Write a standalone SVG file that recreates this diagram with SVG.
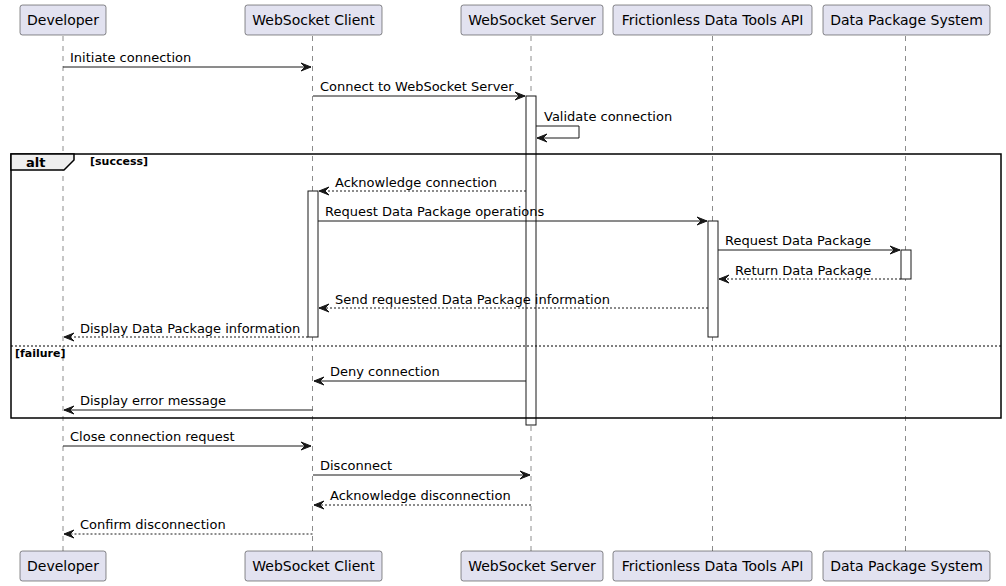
<svg xmlns="http://www.w3.org/2000/svg" width="1006" height="586" viewBox="0 0 1006 586">
<style>
.part rect{fill:#E2E2F0;stroke:#181818;stroke-width:0.5}
.part text{font-family:"DejaVu Sans",sans-serif;font-size:14px;fill:#000;text-anchor:middle}
.life{stroke:#181818;stroke-width:0.5;stroke-dasharray:5,5}
.act{fill:#FFFFFF;stroke:#181818;stroke-width:1}
.msg{stroke:#181818;stroke-width:1;fill:none}
.dash{stroke-dasharray:2,2}
.lbl{font-family:"DejaVu Sans",sans-serif;font-size:13px;fill:#000}
.grp{font-family:"DejaVu Sans",sans-serif;font-size:11px;font-weight:bold;fill:#000}
.head{fill:#181818;stroke:#181818;stroke-width:1}
</style>
<rect width="1006" height="586" fill="#FFFFFF"/>
<g id="lifelines">
<line class="life" x1="63" y1="36" x2="63" y2="551"/>
<line class="life" x1="312.5" y1="36" x2="312.5" y2="551"/>
<line class="life" x1="531" y1="36" x2="531" y2="551"/>
<line class="life" x1="712.5" y1="36" x2="712.5" y2="551"/>
<line class="life" x1="905.5" y1="36" x2="905.5" y2="551"/>
</g>
<g id="Developer" class="part">
<rect x="20" y="5" width="86" height="30" rx="2.5"/><text x="63" y="25">Developer</text>
<rect x="20" y="551" width="86" height="30" rx="2.5"/><text x="63" y="571">Developer</text>
</g>
<g id="WebSocketClient" class="part">
<rect x="245" y="5" width="137" height="30" rx="2.5"/><text x="313.5" y="25">WebSocket Client</text>
<rect x="245" y="551" width="137" height="30" rx="2.5"/><text x="313.5" y="571">WebSocket Client</text>
</g>
<g id="WebSocketServer" class="part">
<rect x="461" y="5" width="142" height="30" rx="2.5"/><text x="532" y="25">WebSocket Server</text>
<rect x="461" y="551" width="142" height="30" rx="2.5"/><text x="532" y="571">WebSocket Server</text>
</g>
<g id="FrictionlessAPI" class="part">
<rect x="613" y="5" width="199" height="30" rx="2.5"/><text x="712.5" y="25">Frictionless Data Tools API</text>
<rect x="613" y="551" width="199" height="30" rx="2.5"/><text x="712.5" y="571">Frictionless Data Tools API</text>
</g>
<g id="DataPackageSystem" class="part">
<rect x="823" y="5" width="167" height="30" rx="2.5"/><text x="906.5" y="25">Data Package System</text>
<rect x="823" y="551" width="167" height="30" rx="2.5"/><text x="906.5" y="571">Data Package System</text>
</g>
<g id="activations">
<rect class="act" x="526" y="96" width="10" height="329"/>
<rect class="act" x="308" y="191" width="10" height="146"/>
<rect class="act" x="708" y="221" width="10" height="116"/>
<rect class="act" x="901" y="250" width="10" height="29"/>
</g>
<g id="altframe">
<rect x="11" y="154" width="990" height="264" fill="none" stroke="#000" stroke-width="1.5"/>
<polygon points="11,154 74,154 74,160 64,170 11,170" fill="#EEEEEE" stroke="#000" stroke-width="1.5"/>
<text x="26" y="167" font-family="DejaVu Sans, sans-serif" font-size="13" font-weight="bold">alt</text>
<text class="grp" x="90" y="165">[success]</text>
<line x1="11" y1="346" x2="1001" y2="346" stroke="#000" stroke-width="1" stroke-dasharray="2,2"/>
<text class="grp" x="15" y="357">[failure]</text>
</g>
<g id="connectors">
<line class="msg" x1="63" y1="67" x2="311" y2="67"/>
<polygon class="head" points="301,63 311,67 301,71 305,67"/>
<text class="lbl" x="70" y="62">Initiate connection</text>

<line class="msg" x1="313" y1="96" x2="525" y2="96"/>
<polygon class="head" points="515,92 525,96 515,100 519,96"/>
<text class="lbl" x="320" y="91">Connect to WebSocket Server</text>

<polyline class="msg" points="536,126 579,126 579,138 537,138"/>
<polygon class="head" points="547,134 537,138 547,142 543,138"/>
<text class="lbl" x="544" y="121">Validate connection</text>

<line class="msg dash" x1="526" y1="191" x2="319" y2="191"/>
<polygon class="head" points="329,187 319,191 329,195 325,191"/>
<text class="lbl" x="335" y="187">Acknowledge connection</text>

<line class="msg" x1="318" y1="221" x2="707" y2="221"/>
<polygon class="head" points="697,217 707,221 697,225 701,221"/>
<text class="lbl" x="325" y="216">Request Data Package operations</text>

<line class="msg" x1="718" y1="250" x2="900" y2="250"/>
<polygon class="head" points="890,246 900,250 890,254 894,250"/>
<text class="lbl" x="725" y="245">Request Data Package</text>

<line class="msg dash" x1="901" y1="279" x2="719" y2="279"/>
<polygon class="head" points="729,275 719,279 729,283 725,279"/>
<text class="lbl" x="735" y="275">Return Data Package</text>

<line class="msg dash" x1="708" y1="308" x2="319" y2="308"/>
<polygon class="head" points="329,304 319,308 329,312 325,308"/>
<text class="lbl" x="335" y="304">Send requested Data Package information</text>

<line class="msg dash" x1="308" y1="337" x2="64" y2="337"/>
<polygon class="head" points="74,333 64,337 74,341 70,337"/>
<text class="lbl" x="80" y="333">Display Data Package information</text>

<line class="msg" x1="526" y1="381" x2="314" y2="381"/>
<polygon class="head" points="324,377 314,381 324,385 320,381"/>
<text class="lbl" x="330" y="376">Deny connection</text>

<line class="msg" x1="312.5" y1="410" x2="64" y2="410"/>
<polygon class="head" points="74,406 64,410 74,414 70,410"/>
<text class="lbl" x="80" y="405">Display error message</text>

<line class="msg" x1="63" y1="446" x2="311" y2="446"/>
<polygon class="head" points="301,442 311,446 301,450 305,446"/>
<text class="lbl" x="70" y="441">Close connection request</text>

<line class="msg" x1="313" y1="475" x2="530" y2="475"/>
<polygon class="head" points="520,471 530,475 520,479 524,475"/>
<text class="lbl" x="320" y="470">Disconnect</text>

<line class="msg dash" x1="531" y1="505" x2="314" y2="505"/>
<polygon class="head" points="324,501 314,505 324,509 320,505"/>
<text class="lbl" x="330" y="500">Acknowledge disconnection</text>

<line class="msg dash" x1="312.5" y1="534" x2="64" y2="534"/>
<polygon class="head" points="74,530 64,534 74,538 70,534"/>
<text class="lbl" x="80" y="529">Confirm disconnection</text>
</g>
</svg>
